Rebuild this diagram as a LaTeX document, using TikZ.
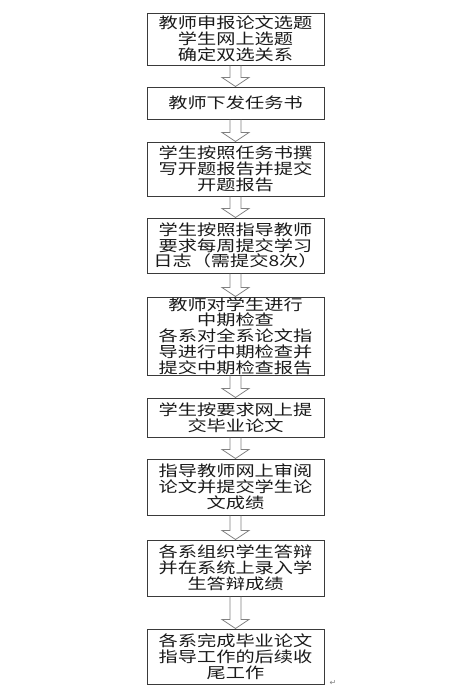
\documentclass[tikz,border=0pt]{standalone}
\usepackage{fontspec}
\newfontfamily\cjk[FakeStretch=1.28]{Noto Sans CJK SC}
\newfontfamily\symfont{DejaVu Sans}
\usetikzlibrary{calc}
\definecolor{boxline}{HTML}{3A3A3A}
\definecolor{arrline}{HTML}{808080}
\definecolor{txt}{HTML}{1A1A1A}
\tikzset{
  stepbox/.style={draw=boxline, line width=1pt, fill=white, inner xsep=0pt, inner ysep=0pt,
    text width=177pt, align=center, text=txt,
    font=\cjk\fontsize{15}{15.8}\selectfont},
  arrowline/.style={draw=arrline, line width=0.8pt, line join=miter}
}
\newcommand{\blkarrow}[2]{%
  \draw[arrowline] ($(#1.south)+(-5.5,0)$) -- ($(#2.north)+(-5.5,-9)$) -- ($(#2.north)+(-13.5,-9)$)
    -- (#2.north) -- ($(#2.north)+(13.5,-9)$) -- ($(#2.north)+(5.5,-9)$) -- ($(#1.south)+(5.5,0)$);}
\begin{document}
\begin{tikzpicture}[x=1pt,y=-1pt]
\useasboundingbox[fill=white] (0,0) rectangle (472,696);
\node[stepbox, minimum height=52pt] (b1) at (235.5,39) {教师申报论文选题\\学生网上选题\\确定双选关系};
\node[stepbox, minimum height=32pt] (b2) at (235.5,103) {教师下发任务书};
\node[stepbox, minimum height=54pt] (b3) at (235.5,169) {学生按照任务书撰\\写开题报告并提交\\开题报告};
\node[stepbox, minimum height=55pt] (b4) at (235.5,245.5) {学生按照指导教师\\要求每周提交学习\\日志（需提交8次）};
\node[stepbox, minimum height=78pt] (b5) at (235.5,336) {教师对学生进行\\中期检查\\各系对全系论文指\\导进行中期检查并\\提交中期检查报告};
\node[stepbox, minimum height=39pt] (b6) at (235.5,417.5) {学生按要求网上提\\交毕业论文};
\node[stepbox, minimum height=56pt] (b7) at (235.5,487) {指导教师网上审阅\\论文并提交学生论\\文成绩};
\node[stepbox, minimum height=56pt] (b8) at (235.5,568) {各系组织学生答辩\\并在系统上录入学\\生答辩成绩};
\node[stepbox, minimum height=55pt] (b9) at (235.5,656.5) {各系完成毕业论文\\指导工作的后续收\\尾工作};
\blkarrow{b1}{b2}
\blkarrow{b2}{b3}
\blkarrow{b3}{b4}
\blkarrow{b4}{b5}
\blkarrow{b5}{b6}
\blkarrow{b6}{b7}
\blkarrow{b7}{b8}
\blkarrow{b8}{b9}
\node[font=\symfont\fontsize{8}{8}\selectfont, text=arrline, inner sep=0pt] (mark) at (333,683) {↵};
\end{tikzpicture}
\end{document}
